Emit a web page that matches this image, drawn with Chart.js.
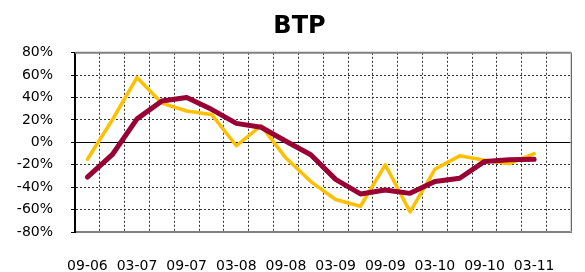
<!DOCTYPE html>
<html>
<head>
<meta charset="utf-8">
<script src="https://cdn.jsdelivr.net/npm/chart.js@4"></script>
<style>
  html, body { margin: 0; padding: 0; background: #fff; }
  #box { width: 585px; height: 272px; }
</style>
</head>
<body>
<div id="box"><canvas id="myChart"></canvas></div>
<script>
// quarterly dates, a label is shown every other one
var labels = ['09-06', '12-06', '03-07', '06-07', '09-07', '12-07', '03-08', '06-08', '09-08', '12-08',
  '03-09', '06-09', '09-09', '12-09', '03-10', '06-10', '09-10', '12-10', '03-11', '06-11'];
var serieRossa = [-31, -11, 21, 37, 40, 29.5, 17, 13.5, 1, -11, -33, -46, -42.5, -45.5, -35, -32, -17, -15.5, -15];
var serieGialla = [-15, 20, 58, 35, 28, 25, -3, 15, -14, -35, -51, -57, -20, -62, -24, -12, -16, -19, -10];
var yMin = -80, yMax = 80, yStep = 20;

// top and right frame of the plot area
const cornice = {
  id: 'cornice',
  afterDraw(chart) {
    const c = chart.ctx, a = chart.chartArea;
    c.save();
    c.strokeStyle = '#808080';
    c.lineWidth = 2;
    c.beginPath();
    c.moveTo(a.left, a.top);
    c.lineTo(a.right, a.top);
    c.stroke();
    c.strokeStyle = '#c0c0c0';
    c.lineWidth = 1;
    c.beginPath();
    c.moveTo(a.right - 0.5, a.top);
    c.lineTo(a.right - 0.5, a.bottom);
    c.stroke();
    c.restore();
  }
};

function tratteggio(c) {
  return c.tick && c.tick.value !== 0 ? [2, 2] : [];
}

const ctx = document.getElementById('myChart');
new Chart(ctx, {
  type: 'line',
  data: {
    labels: labels,
    datasets: [{
      data: serieRossa,
      borderColor: '#990033',
      borderWidth: 5,
      borderCapStyle: 'round',
      borderJoinStyle: 'round',
      pointRadius: 0,
      tension: 0
    }, {
      data: serieGialla,
      borderColor: '#FFC000',
      borderWidth: 3.5,
      borderCapStyle: 'round',
      borderJoinStyle: 'round',
      pointRadius: 0,
      tension: 0
    }]
  },
  options: {
    responsive: true,
    maintainAspectRatio: false,
    animation: false,
    layout: { padding: { left: 15, right: 1 } },
    plugins: {
      legend: { display: false },
      tooltip: { enabled: false },
      title: {
        display: true,
        text: 'BTP',
        color: '#000',
        font: { family: 'DejaVu Sans', size: 24, weight: 'bold' },
        padding: { top: 12, bottom: 12 }
      }
    },
    scales: {
      x: {
        offset: true,
        grid: {
          offset: true,
          color: '#333',
          lineWidth: 1,
          drawTicks: false
        },
        border: { display: true, color: '#808080', width: 2, dash: function(c) { return c.tick ? [2, 2] : []; } },
        ticks: {
          autoSkip: false,
          maxRotation: 0,
          padding: 26,
          color: '#000',
          font: { family: 'DejaVu Sans', size: 14 },
          callback: function(v, i) { return i % 2 ? '' : labels[i]; }
        },
        afterFit: function(s) { s.height = 40; }
      },
      y: {
        min: yMin,
        max: yMax,
        grid: {
          color: function(c) { return c.tick && c.tick.value === 0 ? '#000' : '#333'; },
          lineWidth: 1,
          tickLength: 4,
          tickColor: '#000',
          tickBorderDash: []
        },
        border: { display: true, color: '#000', width: 2, dash: tratteggio },
        ticks: {
          stepSize: yStep,
          padding: 18,
          color: '#000',
          font: { family: 'DejaVu Sans', size: 14 },
          callback: function(v) { return v + '%'; }
        },
        afterFit: function(s) { s.width = 60; }
      }
    }
  },
  plugins: [cornice]
});
</script>
</body>
</html>
